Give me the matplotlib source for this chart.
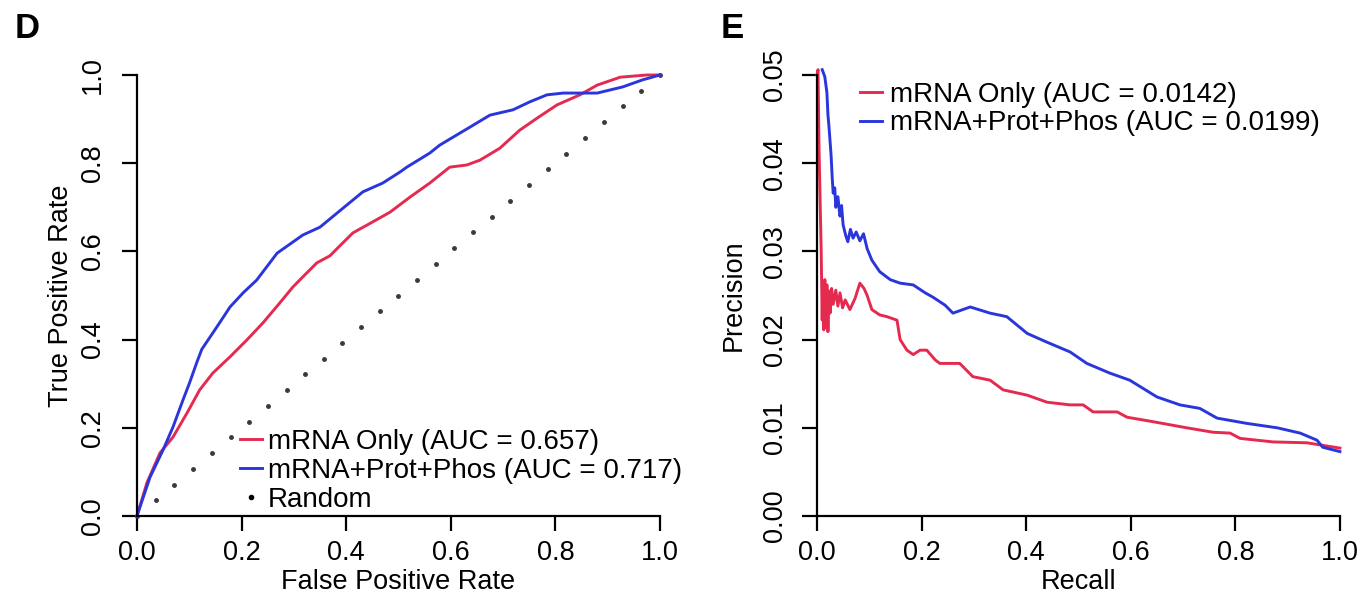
"""ROC (D) and precision-recall (E) curves: mRNA only vs mRNA+Prot+Phos."""

import matplotlib
matplotlib.use("Agg")
import matplotlib.pyplot as plt
from matplotlib.lines import Line2D

plt.rcParams["font.family"] = ["Liberation Sans", "DejaVu Sans"]

RED = "#e52a50"
BLUE = "#2a36dc"

# ROC, mRNA only (AUC = 0.657)
ROC_MRNA_FPR = [0.0, 0.019, 0.044, 0.069, 0.096, 0.120, 0.145, 0.178, 0.210, 0.241,
                0.273, 0.298, 0.317, 0.344, 0.369, 0.390, 0.413, 0.451, 0.484, 0.522,
                0.560, 0.598, 0.631, 0.656, 0.694, 0.732, 0.765, 0.803, 0.847, 0.880,
                0.924, 0.975, 1.0]
ROC_MRNA_TPR = [0.0, 0.075, 0.143, 0.179, 0.234, 0.286, 0.324, 0.361, 0.399, 0.438,
                0.483, 0.519, 0.542, 0.574, 0.590, 0.615, 0.642, 0.667, 0.689, 0.723,
                0.755, 0.791, 0.796, 0.807, 0.834, 0.875, 0.902, 0.932, 0.955, 0.977,
                0.995, 1.0, 1.0]

# ROC, mRNA+Prot+Phos (AUC = 0.717)
ROC_ALL_FPR = [0.0, 0.025, 0.050, 0.069, 0.088, 0.100, 0.115, 0.124, 0.153, 0.178,
               0.203, 0.229, 0.268, 0.317, 0.350, 0.394, 0.432, 0.470, 0.503, 0.516,
               0.560, 0.579, 0.637, 0.675, 0.719, 0.751, 0.784, 0.815, 0.853, 0.880,
               0.929, 0.967, 1.0]
ROC_ALL_TPR = [0.0, 0.088, 0.150, 0.202, 0.263, 0.300, 0.350, 0.378, 0.429, 0.474,
               0.506, 0.535, 0.596, 0.637, 0.655, 0.698, 0.735, 0.755, 0.780, 0.791,
               0.823, 0.841, 0.882, 0.909, 0.921, 0.939, 0.955, 0.959, 0.959, 0.959,
               0.973, 0.989, 1.0]

# random classifier, drawn as dots along the diagonal
RANDOM_X = [0.0, 0.036, 0.071, 0.107, 0.143, 0.179, 0.214, 0.250, 0.286, 0.321,
            0.357, 0.393, 0.429, 0.464, 0.500, 0.536, 0.571, 0.607, 0.643, 0.679,
            0.714, 0.750, 0.786, 0.821, 0.857, 0.893, 0.929, 0.964, 1.0]
RANDOM_Y = RANDOM_X

# precision-recall, mRNA only (AUC = 0.0142)
PR_MRNA_REC = [0.0, 0.002, 0.004, 0.006, 0.008, 0.010, 0.011, 0.013, 0.015, 0.017,
               0.019, 0.021, 0.023, 0.025, 0.028, 0.031, 0.036, 0.040, 0.044, 0.049,
               0.054, 0.063, 0.073, 0.082, 0.090, 0.096, 0.105, 0.120, 0.134, 0.153,
               0.159, 0.172, 0.184, 0.197, 0.210, 0.226, 0.235, 0.273, 0.298, 0.331,
               0.356, 0.402, 0.440, 0.484, 0.509, 0.528, 0.574, 0.593, 0.642, 0.707,
               0.757, 0.790, 0.809, 0.872, 0.937, 1.0]
PR_MRNA_PREC = [0.0500, 0.0506, 0.0415, 0.0358, 0.0302, 0.0222, 0.0265, 0.0211, 0.0268, 0.0214,
                0.0262, 0.0209, 0.0255, 0.0230, 0.0258, 0.0240, 0.0256, 0.0238, 0.0253, 0.0236,
                0.0245, 0.0234, 0.0247, 0.0264, 0.0258, 0.0250, 0.0234, 0.0228, 0.0226, 0.0222,
                0.0200, 0.0188, 0.0183, 0.0188, 0.0188, 0.0177, 0.0173, 0.0173, 0.0158, 0.0154,
                0.0143, 0.0137, 0.0129, 0.0126, 0.0126, 0.0118, 0.0118, 0.0112, 0.0107, 0.0100,
                0.0095, 0.0094, 0.0088, 0.0084, 0.0083, 0.0077]

# precision-recall, mRNA+Prot+Phos (AUC = 0.0199)
PR_ALL_REC = [0.010, 0.015, 0.019, 0.021, 0.023, 0.025, 0.027, 0.029, 0.031, 0.034,
              0.036, 0.040, 0.044, 0.047, 0.050, 0.055, 0.059, 0.064, 0.069, 0.075,
              0.082, 0.089, 0.096, 0.105, 0.120, 0.140, 0.159, 0.184, 0.207, 0.222,
              0.245, 0.260, 0.293, 0.331, 0.363, 0.402, 0.440, 0.484, 0.516, 0.560,
              0.598, 0.650, 0.694, 0.732, 0.765, 0.822, 0.880, 0.924, 0.956, 0.967,
              1.0]
PR_ALL_PREC = [0.0506, 0.0498, 0.0480, 0.0455, 0.0441, 0.0425, 0.0409, 0.0385, 0.0366, 0.0372,
               0.0350, 0.0362, 0.0340, 0.0352, 0.0330, 0.0318, 0.0311, 0.0325, 0.0315, 0.0322,
               0.0312, 0.0320, 0.0303, 0.0290, 0.0277, 0.0268, 0.0264, 0.0262, 0.0253, 0.0248,
               0.0239, 0.0230, 0.0237, 0.0230, 0.0226, 0.0207, 0.0197, 0.0186, 0.0173, 0.0162,
               0.0154, 0.0135, 0.0126, 0.0122, 0.0111, 0.0105, 0.0100, 0.0094, 0.0086, 0.0078,
               0.0073]

X_TICKS = [0.0, 0.2, 0.4, 0.6, 0.8, 1.0]
ROC_Y_TICKS = [0.0, 0.2, 0.4, 0.6, 0.8, 1.0]
PR_Y_TICKS = [0.00, 0.01, 0.02, 0.03, 0.04, 0.05]

FS = 19.5


def r_style(ax, yticks, yfmt, ypad):
    # base-R look: only left/bottom axis lines, outward ticks, rotated y labels
    for s in ("top", "right"):
        ax.spines[s].set_visible(False)
    for s in ("left", "bottom"):
        ax.spines[s].set_linewidth(1.6)
    ax.spines["left"].set_bounds(yticks[0], yticks[-1])
    ax.spines["bottom"].set_bounds(0, 1)
    ax.set_xticks(X_TICKS)
    ax.set_xticklabels([f"{t:.1f}" for t in X_TICKS])
    ax.set_yticks(yticks)
    ax.set_yticklabels([yfmt.format(t) for t in yticks], rotation=90, va="center")
    ax.tick_params(direction="out", length=10.5, width=1.6, labelsize=FS)
    ax.tick_params(axis="x", pad=7)
    ax.tick_params(axis="y", pad=ypad)
    ax.set_xlim(0, 1)
    ax.set_ylim(yticks[0], yticks[-1])


fig = plt.figure(figsize=(13.68, 5.98), dpi=100)
ax1 = fig.add_axes([0.1001, 0.1371, 0.3823, 0.7375])
ax2 = fig.add_axes([0.5972, 0.1371, 0.3823, 0.7375])

# PANEL D: ROC
ax1.plot(RANDOM_X, RANDOM_Y, linestyle="none", marker="o", markersize=2.5,
         color="#3a3a3a", clip_on=False)
ax1.plot(ROC_MRNA_FPR, ROC_MRNA_TPR, color=RED, lw=2.1, clip_on=False)
ax1.plot(ROC_ALL_FPR, ROC_ALL_TPR, color=BLUE, lw=2.1, clip_on=False)
r_style(ax1, ROC_Y_TICKS, "{:.1f}", 12)
ax1.set_xlabel("False Positive Rate", fontsize=FS)
ax1.set_ylabel("True Positive Rate", fontsize=FS)
ax1.xaxis.set_label_coords(0.5, -0.150)
ax1.xaxis.label.set_va("center")
ax1.yaxis.set_label_coords(-0.145, 0.5)
ax1.yaxis.label.set_va("center")
handles = [Line2D([], [], color=RED, lw=2.1),
           Line2D([], [], color=BLUE, lw=2.1),
           Line2D([], [], color="black", marker="o", markersize=3, linestyle="none")]
ax1.legend(handles, ["mRNA Only (AUC = 0.657)", "mRNA+Prot+Phos (AUC = 0.717)", "Random"],
           loc="upper left", bbox_to_anchor=(0.197, 0.197), frameon=False, fontsize=20,
           handlelength=0.8, handletextpad=0.2, labelspacing=0.1, borderpad=0,
           borderaxespad=0, numpoints=1)

# PANEL E: precision-recall
ax2.plot(PR_MRNA_REC, PR_MRNA_PREC, color=RED, lw=2.1, clip_on=False)
ax2.plot(PR_ALL_REC, PR_ALL_PREC, color=BLUE, lw=2.1, clip_on=False)
r_style(ax2, PR_Y_TICKS, "{:.2f}", 10)
ax2.set_xlabel("Recall", fontsize=FS)
ax2.set_ylabel("Precision", fontsize=FS)
ax2.xaxis.set_label_coords(0.5, -0.150)
ax2.xaxis.label.set_va("center")
ax2.yaxis.set_label_coords(-0.160, 0.5)
ax2.yaxis.label.set_va("center")
handles = [Line2D([], [], color=RED, lw=2.1), Line2D([], [], color=BLUE, lw=2.1)]
ax2.legend(handles, ["mRNA Only (AUC = 0.0142)", "mRNA+Prot+Phos (AUC = 0.0199)"],
           loc="upper left", bbox_to_anchor=(0.082, 0.985), frameon=False, fontsize=20,
           handlelength=0.8, handletextpad=0.3, labelspacing=0.1, borderpad=0,
           borderaxespad=0)

panel_font = ["Liberation Sans Narrow", "Liberation Sans", "DejaVu Sans"]
fig.text(15 / 1368, 1 - 12 / 598, "D", fontsize=25, fontweight="bold",
         family=panel_font, ha="left", va="top")
fig.text(721 / 1368, 1 - 12 / 598, "E", fontsize=25, fontweight="bold",
         family=panel_font, ha="left", va="top")

fig.savefig("out.png", dpi=100)
